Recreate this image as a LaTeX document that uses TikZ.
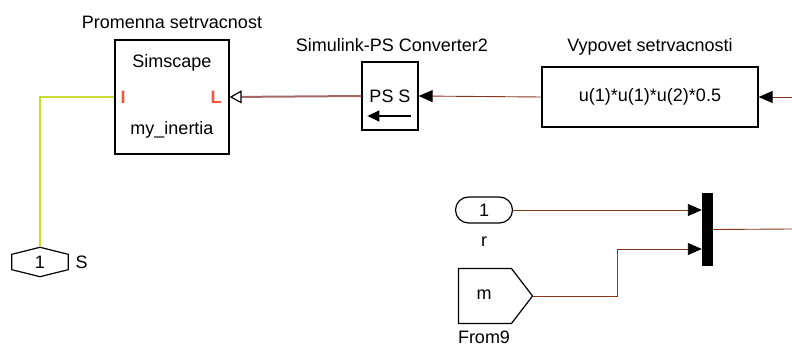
\documentclass[tikz,border=0pt]{standalone}
\usepackage{fontspec}
\setmainfont{Liberation Sans}
\usetikzlibrary{%
	arrows.meta,%
	calc,%
	shapes.misc,%
	shapes.symbols
}

\definecolor{sigline}{RGB}{130,55,30}
\definecolor{physline}{RGB}{165,105,105}
\definecolor{connline}{RGB}{200,220,50}
\definecolor{portred}{RGB}{240,90,60}

\tikzset{
	blk/.style={draw, line width=1.2pt, fill=white, inner sep=0pt},
	sig/.style={sigline, line width=0.9pt, -{Triangle[length=14pt,width=12pt,color=black]}},
	plain sig/.style={sigline, line width=0.9pt},
	phys/.style={physline, line width=2pt, -{Triangle[open,length=12pt,width=13pt,line width=1.2pt,color=black]}},
	conn/.style={connline, line width=2pt},
	port/.style={portred, font=\fontsize{18}{21}\selectfont\bfseries}
}

\begin{document}
\begin{tikzpicture}[x=1pt, y=-1pt, every node/.style={font=\fontsize{18}{21}\selectfont}]
				\useasboundingbox (0,0) rectangle (792,347);
				
				% Blocks
				\node[blk, minimum width=114, minimum height=114] (sim) at (172,97) {};
				\node[blk, minimum width=56, minimum height=68] (conv) at (390,96) {PS S};
				\node[blk, minimum width=216, minimum height=60] (fcn) at (650,97) {u(1)*u(1)*u(2)*0.5};
				\node[blk, rounded rectangle, minimum width=57, minimum height=26] (in1) at (484,210) {1};
				\node[blk, signal, signal to=east, signal pointer angle=105, minimum width=74, minimum height=55] (from) at (485,296) {};
				\node[fill=black, inner sep=0pt, minimum width=11, minimum height=73] (mux) at (707.5,229.5) {};
				\node[inner sep=0pt, minimum width=56, minimum height=29] (cport) at (40,262) {1};
				\draw[line width=1.2pt] (cport.north) -- ([yshift=-7]cport.north east) -- ([yshift=7]cport.south east)
					-- (cport.south) -- ([yshift=7]cport.south west) -- ([yshift=-7]cport.north west) -- cycle;
				
				% Texts inside blocks
				\node (simtop) at (172,63) {Simscape};
				\node (simbot) at (172,130) {my\_inertia};
				\node[port] (pI) at (123,97) {I};
				\node[port] (pL) at (216,97) {L};
				\node (mtxt) at (484,295) {m};
				\draw[line width=1.5pt, -{Triangle[length=12pt,width=11pt]}] ([xshift=-8,yshift=-20]conv.east) -- ([xshift=6,yshift=-20]conv.west);
				
				% Block names
				\node (simname) at (172,22) {Promenna setrvacnost};
				\node (convname) at (392,45) {Simulink-PS Converter2};
				\node (fcnname) at (650,47) {Vypovet setrvacnosti};
				\node (inname) at (484,242) {r};
				\node (fromname) at (484,337) {From9};
				\node[anchor=west] (cname) at (72,262) {S};
				
				% Lines
				\coordinate (rin) at (792,97);
				\coordinate (rout) at (792,229);
				\draw[sig] (rin) -- (fcn.east);
				\draw[sig] (fcn.west) -- (conv.east);
				\draw[phys] (conv.west) -- (sim.east);
				\draw[conn] (sim.west) -| (cport.north);
				\draw[sig] (in1.east) -- (in1.east -| mux.west);
				\draw[sig] (from.east) -- ++(84,0) |- ([yshift=-19.5]mux.west);
				\draw[plain sig] (mux.east) -- (rout);
			\end{tikzpicture}
\end{document}
